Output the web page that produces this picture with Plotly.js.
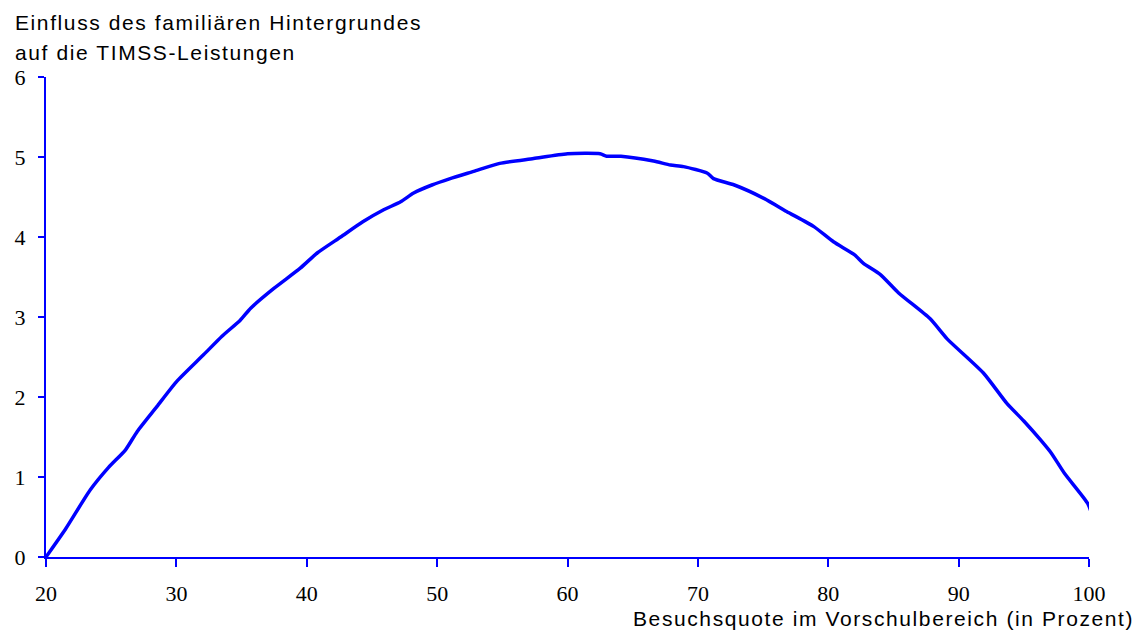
<!DOCTYPE html>
<html>
<head>
<meta charset="utf-8">
<script src="https://cdn.plot.ly/plotly-3.0.1.min.js"></script>
<style>
html,body{margin:0;padding:0;background:#fff;}
#chart{width:1142px;height:634px;}
#chart text.annotation-text{letter-spacing:1.6px;}
</style>
</head>
<body>
<div id="chart"></div>
<script>
// Data
const besuchsquote = [20, 21.5, 23.4, 24.8, 26.1, 27.0, 28.5, 30.0, 32.1, 33.5, 34.9, 35.7, 37.5, 39.5, 40.8, 42.6, 44.3, 45.9, 47.2, 48.2, 49.6, 51.0, 52.8, 54.8, 57.4, 60.0, 62.5, 63.0, 64.1, 66.6, 67.9, 68.9, 70.7, 71.2, 72.8, 75.1, 76.8, 78.9, 80.4, 82.0, 82.7, 84.0, 85.4, 87.8, 89.1, 91.9, 93.7, 95.0, 96.3, 97.1, 98.1, 99.9, 100.25];
const einfluss = [0, 0.35, 0.84, 1.12, 1.34, 1.57, 1.88, 2.19, 2.53, 2.76, 2.96, 3.11, 3.36, 3.61, 3.80, 4.00, 4.19, 4.34, 4.44, 4.55, 4.65, 4.73, 4.82, 4.92, 4.98, 5.04, 5.04, 5.01, 5.01, 4.95, 4.90, 4.88, 4.80, 4.73, 4.65, 4.48, 4.32, 4.13, 3.94, 3.78, 3.67, 3.53, 3.30, 2.98, 2.73, 2.30, 1.92, 1.70, 1.46, 1.30, 1.05, 0.67, 0.52];
const xTicks = [20, 30, 40, 50, 60, 70, 80, 90, 100];
const yTicks = [0, 1, 2, 3, 4, 5, 6];
const yTitleLines = ['Einfluss des familiären Hintergrundes', 'auf die TIMSS-Leistungen'];
const xTitle = 'Besuchsquote im Vorschulbereich (in Prozent)';

const blue = '#0000FF';
const trace = {
  x: besuchsquote,
  y: einfluss,
  type: 'scatter',
  mode: 'lines',
  line: {color: blue, width: 3.5, shape: 'spline', smoothing: 0.6},
  hoverinfo: 'x+y'
};

const axisCommon = {
  showgrid: false,
  zeroline: false,
  showline: true,
  linecolor: blue,
  linewidth: 2,
  ticks: 'outside',
  tickcolor: blue,
  tickwidth: 2,
  tickfont: {family: 'Liberation Serif, Times New Roman, serif', size: 22, color: '#000'},
  fixedrange: true
};

const titleFont = {family: 'Liberation Sans, Arial, sans-serif', size: 21, color: '#000'};
// helpers converting pixel positions of the page to paper coordinates
const PL = 46, PW = 1043, PB = 557, PH = 480;
const px = v => (v - PL) / PW;
const py = v => (PB - v) / PH;

const layout = {
  width: 1142,
  height: 634,
  margin: {l: 46, r: 53, t: 77, b: 77},
  paper_bgcolor: '#fff',
  plot_bgcolor: '#fff',
  showlegend: false,
  xaxis: Object.assign({}, axisCommon, {
    range: [20, 100],
    tickvals: xTicks,
    ticktext: xTicks.map(String),
    ticklen: 8,
    ticklabelstandoff: 8
  }),
  yaxis: Object.assign({}, axisCommon, {
    range: [0, 6],
    tickvals: yTicks,
    ticktext: yTicks.map(String),
    ticklen: 6,
    ticklabelstandoff: 8
  }),
  annotations: [
    {text: yTitleLines[0], xref: 'paper', yref: 'paper', x: px(13), y: py(23),
     xanchor: 'left', yanchor: 'middle', align: 'left', showarrow: false, font: titleFont},
    {text: yTitleLines[1], xref: 'paper', yref: 'paper', x: px(13), y: py(53),
     xanchor: 'left', yanchor: 'middle', align: 'left', showarrow: false, font: titleFont},
    {text: xTitle, xref: 'paper', yref: 'paper', x: px(631), y: py(618),
     xanchor: 'left', yanchor: 'middle', align: 'left', showarrow: false, font: titleFont}
  ]
};

Plotly.newPlot('chart', [trace], layout, {displayModeBar: false, staticPlot: true});
</script>
</body>
</html>
